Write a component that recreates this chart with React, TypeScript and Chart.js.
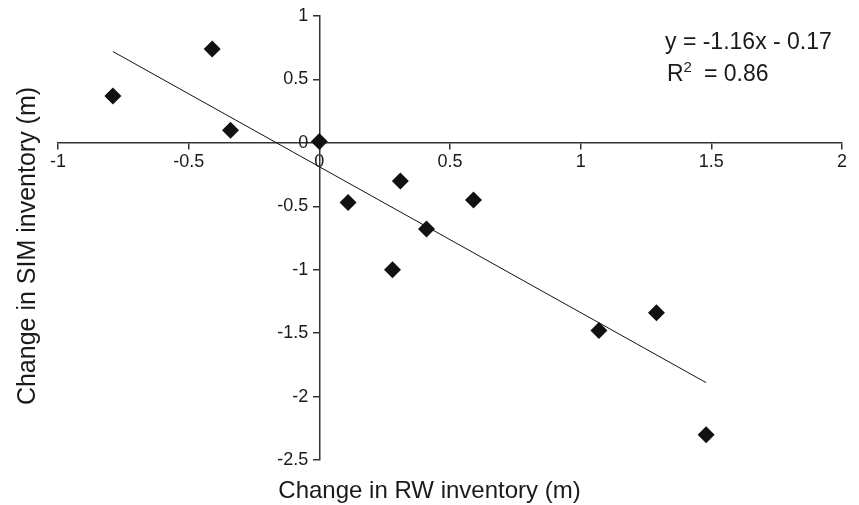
import React, { useEffect, useRef } from 'react';
import { Chart, registerables } from 'chart.js';

Chart.register(...registerables);

const rwChange = [-0.79, -0.41, -0.34, 0.0, 0.11, 0.31, 0.41, 0.28, 0.59, 1.07, 1.29, 1.48];
const simChange = [0.37, 0.74, 0.1, 0.01, -0.47, -0.3, -0.68, -1.0, -0.45, -1.48, -1.34, -2.3];
const trendX = [-0.79, 1.48];
const trendY = [0.72, -1.89];
const xTicks = [-1, -0.5, 0, 0.5, 1, 1.5, 2];
const yTicks = [1, 0.5, 0, -0.5, -1, -1.5, -2, -2.5];
const xTitle = 'Change in RW inventory (m)';
const yTitle = 'Change in SIM inventory (m)';
const equationText = 'y = -1.16x - 0.17';
const r2Base = 'R';
const r2Sup = '2';
const r2Rest = '= 0.86';

const FONT = '"Liberation Sans", Arial, sans-serif';
const INK = '#1a1a1a';
const AXIS = '#333333';

const annotations = {
  id: 'annotations',
  afterDraw(chart: any) {
    const { ctx, chartArea, width } = chart;
    ctx.save();
    ctx.fillStyle = INK;
    // x axis title
    ctx.font = `24px ${FONT}`;
    ctx.textAlign = 'center';
    ctx.textBaseline = 'middle';
    ctx.fillText(xTitle, width / 2, chartArea.bottom + 31);
    // y axis title
    ctx.save();
    ctx.translate(28, (chartArea.top + chartArea.bottom) / 2 + 8);
    ctx.rotate(-Math.PI / 2);
    ctx.font = `25px ${FONT}`;
    ctx.fillText(yTitle, 0, 0);
    ctx.restore();
    // regression equation
    ctx.textAlign = 'left';
    ctx.textBaseline = 'alphabetic';
    ctx.font = `23px ${FONT}`;
    ctx.fillText(equationText, 665, 49);
    let x = 667;
    ctx.fillText(r2Base, x, 81);
    x += ctx.measureText(r2Base).width;
    ctx.font = `15px ${FONT}`;
    ctx.fillText(r2Sup, x, 72);
    x += ctx.measureText(r2Sup).width + 12;
    ctx.font = `23px ${FONT}`;
    ctx.fillText(r2Rest, x, 81);
    ctx.restore();
  },
};

// the y axis sits at x = 0; move its tick labels to the left of the tick marks
const yLabelOffset = {
  id: 'yLabelOffset',
  beforeDraw(chart: any) {
    const scale = chart.scales.y;
    if (!scale) return;
    const items = scale.getLabelItems();
    if ((items as any).__shifted) return;
    items.forEach((it: any) => {
      it.options.translation[0] -= 11;
    });
    (items as any).__shifted = true;
  },
};

export default function App() {
  const ref = useRef<HTMLCanvasElement | null>(null);
  useEffect(() => {
    if (!ref.current) return;
    const chart = new Chart(ref.current, {
      type: 'scatter',
      data: {
        datasets: [
          {
            label: 'Observations',
            data: rwChange.map((x, i) => ({ x, y: simChange[i] })),
            pointStyle: 'rectRot',
            pointRadius: 8.5,
            pointBackgroundColor: '#111111',
            pointBorderColor: '#111111',
            pointBorderWidth: 0,
            showLine: false,
            order: 1,
          },
          {
            label: 'Trend',
            data: trendX.map((x, i) => ({ x, y: trendY[i] })),
            showLine: true,
            borderColor: '#111111',
            borderWidth: 1,
            pointRadius: 0,
            order: 2,
          },
        ],
      },
      options: {
        animation: false,
        responsive: true,
        maintainAspectRatio: false,
        layout: { padding: { left: 58, right: 17, top: 16, bottom: 45 } },
        plugins: { legend: { display: false }, tooltip: { enabled: false }, title: { display: false } },
        scales: {
          x: {
            type: 'linear',
            position: { y: 0 },
            min: -1,
            max: 2,
            afterBuildTicks: (s: any) => {
              s.ticks = xTicks.map((v) => ({ value: v }));
            },
            ticks: {
              callback: (v: any) => String(v),
              font: { size: 18, family: FONT },
              color: INK,
              padding: 2,
              maxRotation: 0,
              autoSkip: false,
            },
            grid: { drawOnChartArea: false, drawTicks: true, tickLength: 6, color: AXIS, lineWidth: 1.5 },
            border: { display: true, color: AXIS, width: 1.5 },
          },
          y: {
            type: 'linear',
            position: { x: 0 },
            min: -2.5,
            max: 1,
            afterBuildTicks: (s: any) => {
              s.ticks = yTicks.map((v) => ({ value: v }));
            },
            ticks: {
              callback: (v: any) => String(v),
              font: { size: 18, family: FONT },
              color: INK,
              padding: 4,
              autoSkip: false,
            },
            grid: { drawOnChartArea: false, drawTicks: true, tickLength: 6, color: AXIS, lineWidth: 1.5 },
            border: { display: true, color: AXIS, width: 1.5 },
          },
        },
      },
      plugins: [yLabelOffset, annotations],
    });
    return () => chart.destroy();
  }, []);
  return (
    <div style={{ position: 'absolute', left: 0, top: 0, width: 859, height: 505, background: '#fff' }}>
      <canvas ref={ref} />
    </div>
  );
}
